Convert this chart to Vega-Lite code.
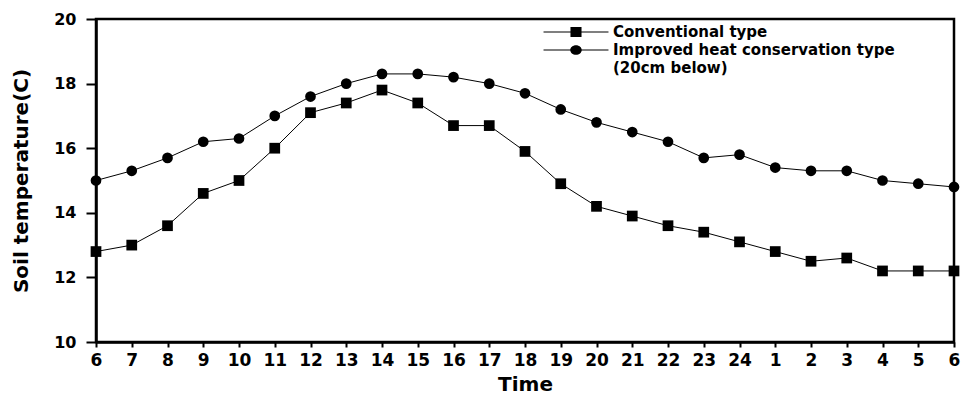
{
  "$schema": "https://vega.github.io/schema/vega-lite/v6.json",
  "width": 858,
  "height": 323,
  "autosize": {"type": "none"},
  "padding": {"left": 96, "top": 19, "right": 10, "bottom": 55},
  "background": "white",
  "config": {
    "view": {"stroke": "black", "strokeWidth": 2.5},
    "font": "DejaVu Sans",
    "axis": {
      "domainColor": "black", "domainWidth": 2.5, "tickColor": "black", "tickWidth": 2,
      "labelColor": "black", "labelFont": "DejaVu Sans", "labelFontWeight": "bold",
      "titleColor": "black", "titleFont": "DejaVu Sans", "titleFontWeight": "bold",
      "grid": false
    }
  },
  "data": {
    "values": [
      {"time": "6", "series": "Conventional type", "temp": 12.8},
      {"time": "7", "series": "Conventional type", "temp": 13.0},
      {"time": "8", "series": "Conventional type", "temp": 13.6},
      {"time": "9", "series": "Conventional type", "temp": 14.6},
      {"time": "10", "series": "Conventional type", "temp": 15.0},
      {"time": "11", "series": "Conventional type", "temp": 16.0},
      {"time": "12", "series": "Conventional type", "temp": 17.1},
      {"time": "13", "series": "Conventional type", "temp": 17.4},
      {"time": "14", "series": "Conventional type", "temp": 17.8},
      {"time": "15", "series": "Conventional type", "temp": 17.4},
      {"time": "16", "series": "Conventional type", "temp": 16.7},
      {"time": "17", "series": "Conventional type", "temp": 16.7},
      {"time": "18", "series": "Conventional type", "temp": 15.9},
      {"time": "19", "series": "Conventional type", "temp": 14.9},
      {"time": "20", "series": "Conventional type", "temp": 14.2},
      {"time": "21", "series": "Conventional type", "temp": 13.9},
      {"time": "22", "series": "Conventional type", "temp": 13.6},
      {"time": "23", "series": "Conventional type", "temp": 13.4},
      {"time": "24", "series": "Conventional type", "temp": 13.1},
      {"time": "1", "series": "Conventional type", "temp": 12.8},
      {"time": "2", "series": "Conventional type", "temp": 12.5},
      {"time": "3", "series": "Conventional type", "temp": 12.6},
      {"time": "4", "series": "Conventional type", "temp": 12.2},
      {"time": "5", "series": "Conventional type", "temp": 12.2},
      {"time": "6 ", "series": "Conventional type", "temp": 12.2},
      {"time": "6", "series": "Improved heat conservation type", "temp": 15.0},
      {"time": "7", "series": "Improved heat conservation type", "temp": 15.3},
      {"time": "8", "series": "Improved heat conservation type", "temp": 15.7},
      {"time": "9", "series": "Improved heat conservation type", "temp": 16.2},
      {"time": "10", "series": "Improved heat conservation type", "temp": 16.3},
      {"time": "11", "series": "Improved heat conservation type", "temp": 17.0},
      {"time": "12", "series": "Improved heat conservation type", "temp": 17.6},
      {"time": "13", "series": "Improved heat conservation type", "temp": 18.0},
      {"time": "14", "series": "Improved heat conservation type", "temp": 18.3},
      {"time": "15", "series": "Improved heat conservation type", "temp": 18.3},
      {"time": "16", "series": "Improved heat conservation type", "temp": 18.2},
      {"time": "17", "series": "Improved heat conservation type", "temp": 18.0},
      {"time": "18", "series": "Improved heat conservation type", "temp": 17.7},
      {"time": "19", "series": "Improved heat conservation type", "temp": 17.2},
      {"time": "20", "series": "Improved heat conservation type", "temp": 16.8},
      {"time": "21", "series": "Improved heat conservation type", "temp": 16.5},
      {"time": "22", "series": "Improved heat conservation type", "temp": 16.2},
      {"time": "23", "series": "Improved heat conservation type", "temp": 15.7},
      {"time": "24", "series": "Improved heat conservation type", "temp": 15.8},
      {"time": "1", "series": "Improved heat conservation type", "temp": 15.4},
      {"time": "2", "series": "Improved heat conservation type", "temp": 15.3},
      {"time": "3", "series": "Improved heat conservation type", "temp": 15.3},
      {"time": "4", "series": "Improved heat conservation type", "temp": 15.0},
      {"time": "5", "series": "Improved heat conservation type", "temp": 14.9},
      {"time": "6 ", "series": "Improved heat conservation type", "temp": 14.8}
    ]
  },
  "encoding": {
    "x": {
      "field": "time", "type": "ordinal", "sort": null,
      "scale": {"type": "point", "padding": 0},
      "axis": {
        "title": "Time", "titleFontSize": 20, "titlePadding": 6,
        "labelAngle": 0, "labelFontSize": 17, "labelPadding": 5, "tickSize": 5,
        "labelExpr": "trim(datum.label)"
      }
    },
    "y": {
      "field": "temp", "type": "quantitative",
      "scale": {"domain": [10, 20], "nice": false, "zero": false},
      "axis": {
        "title": "Soil temperature(C)", "titleFontSize": 20, "titlePadding": 22,
        "values": [10, 12, 14, 16, 18, 20], "labelFontSize": 16, "labelPadding": 10, "tickSize": 10
      }
    }
  },
  "layer": [
    {
      "mark": {"type": "line", "color": "black", "strokeWidth": 1},
      "encoding": {"detail": {"field": "series"}}
    },
    {
      "mark": {"type": "point", "filled": true, "color": "black", "opacity": 1, "size": 115},
      "encoding": {
        "shape": {
          "field": "series", "type": "nominal",
          "scale": {"domain": ["Conventional type", "Improved heat conservation type"], "range": ["square", "circle"]},
          "legend": null
        }
      }
    },
    {
      "transform": [{"filter": "false"}],
      "mark": {"type": "point", "filled": true, "color": "black", "opacity": 1, "size": 256},
      "encoding": {
        "shape": {
          "field": "series", "type": "nominal",
          "scale": {
            "domain": ["Conventional type", "Improved heat conservation type", "(20cm below)"],
            "range": [
              "M-4.06,-0.0625H4.06V0.0625H-4.06Z M-0.69,-0.625H0.69V0.625H-0.69Z",
              "M-4.06,-0.0625H4.06V0.0625H-4.06Z M-0.72,0A0.72,0.6,0,1,1,0.72,0A0.72,0.6,0,1,1,-0.72,0Z",
              "M0,0"
            ]
          },
          "legend": {
            "title": null, "orient": "none", "legendX": 472, "legendY": 5,
            "padding": 0, "rowPadding": 2, "symbolSize": 256, "labelOffset": 29,
            "labelFont": "DejaVu Sans", "labelFontWeight": "bold", "labelFontSize": 15, "labelColor": "black",
            "symbolFillColor": "black", "symbolStrokeWidth": 0, "symbolOpacity": 1, "labelLimit": 400
          }
        }
      }
    }
  ],
  "resolve": {"scale": {"shape": "independent"}, "legend": {"shape": "independent"}}
}
